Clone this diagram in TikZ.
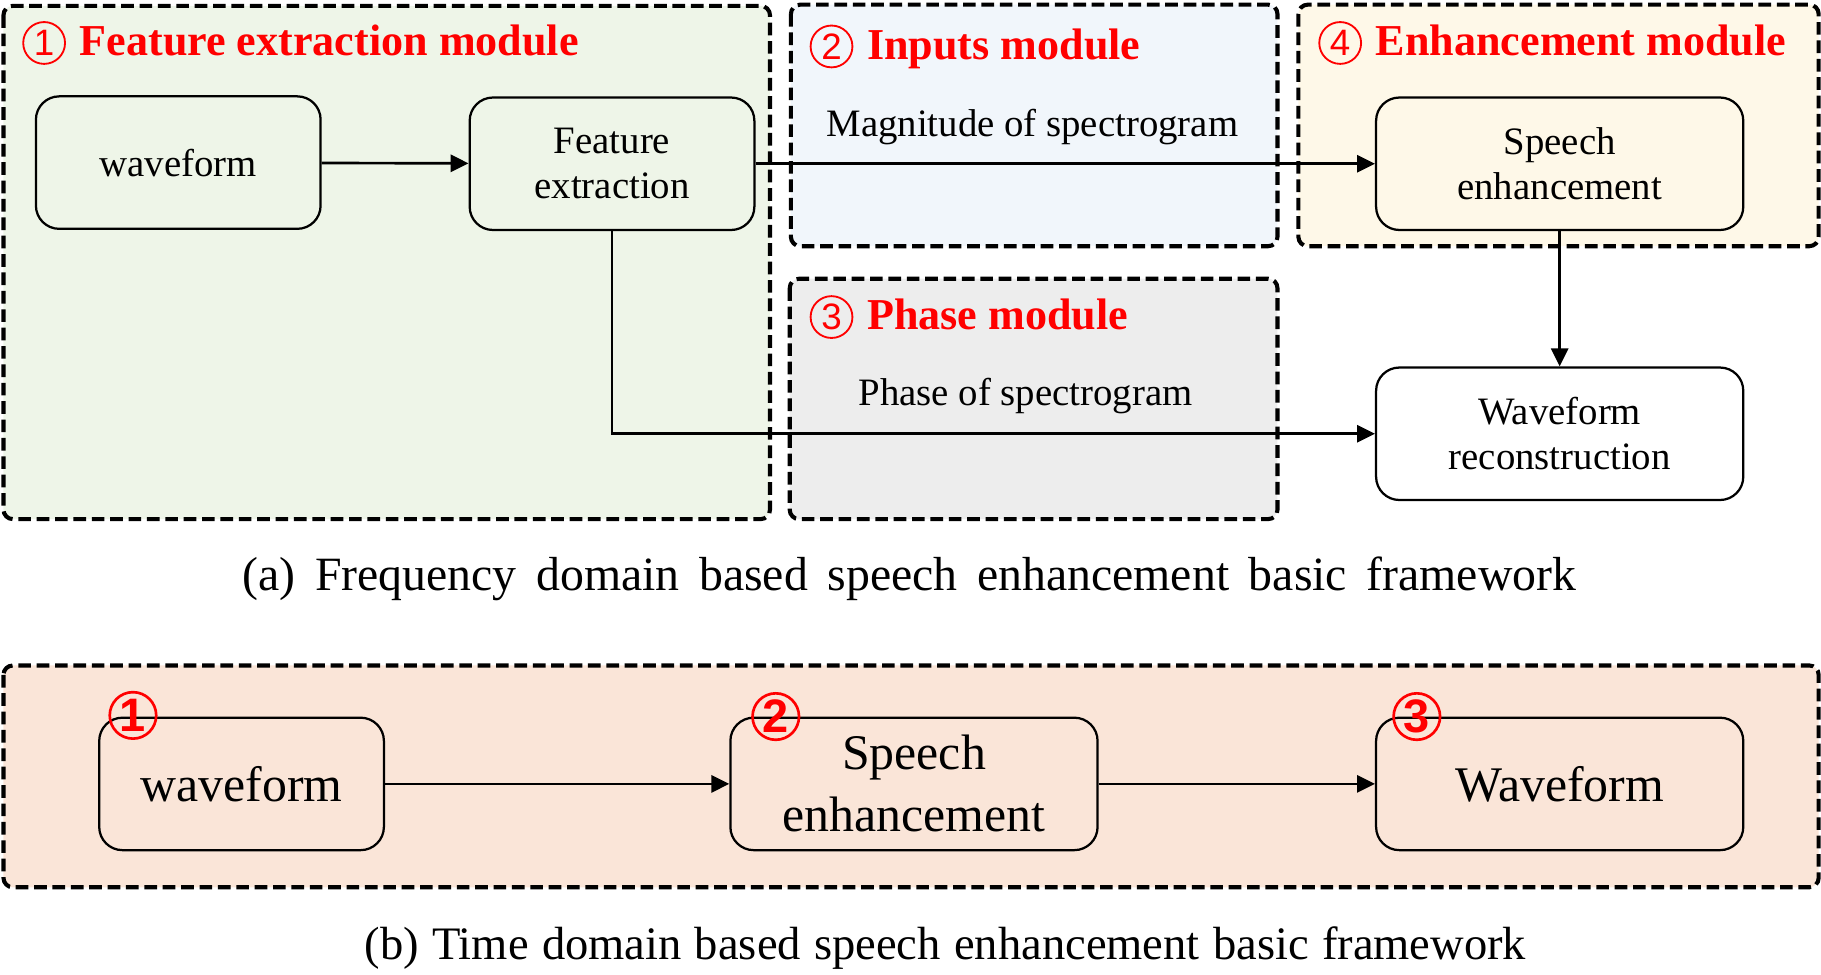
\documentclass[tikz,border=0pt]{standalone}
\usepackage{fontspec}
\setmainfont{Liberation Serif}
\newfontfamily\numfont{Liberation Sans}
\usetikzlibrary{arrows.meta,calc}
\definecolor{modgreen}{HTML}{EEF5E8}
\definecolor{modblue}{HTML}{F1F6FB}
\definecolor{modyellow}{HTML}{FEF8E8}
\definecolor{modgray}{HTML}{EDEDED}
\definecolor{modpeach}{HTML}{FAE5D8}
\definecolor{numred}{rgb}{1.0, 0.0, 0.0}

\tikzset{
	modbox/.style={draw, line width=1pt, dash pattern=on 3.1pt off 1.4pt, rounded corners=2.3pt},
	modtitle/.style={anchor=base west, inner sep=0pt, text=numred, font=\fontsize{10.8}{12}\selectfont\bfseries},
	numbadge/.style={circle, draw=numred, text=numred, line width=0.45pt, inner sep=0pt,
		minimum size=0.36cm, font=\numfont\fontsize{9}{9}\selectfont},
	bignumbadge/.style={numbadge, line width=0.65pt, minimum size=0.40cm, font=\numfont\fontsize{11.5}{11.5}\selectfont\bfseries},
	proc/.style={draw, line width=0.55pt, rounded corners=5.7pt, align=center, inner sep=0pt,
		minimum width=2.45cm, minimum height=1.14cm, font=\fontsize{9.5}{11.1}\selectfont},
	bigproc/.style={proc, font=\fontsize{12.2}{15.2}\selectfont},
	plain/.style={inner sep=0pt, font=\fontsize{9.5}{11.1}\selectfont},
	figcap/.style={inner sep=0pt, font=\fontsize{11.4}{13}\selectfont},
	arr/.style={line width=0.65pt, -{Triangle[length=4.4pt, width=4.2pt]}}
}

\begin{document}
\begin{tikzpicture}[x=0.01cm, y=-0.01cm]
	\useasboundingbox (0,0) rectangle (1568,839);

	\draw[modbox, fill=modgreen] (3,5) rectangle (663,447);
	\draw[modbox, fill=modblue] (681,4) rectangle (1100,212);
	\draw[modbox, fill=modyellow] (1118,4) rectangle (1566,212);
	\draw[modbox, fill=modgray] (680,240) rectangle (1100,447);
	\draw[modbox, fill=modpeach] (3,573) rectangle (1566,764);

	\node[numbadge] (cfeat) at (38,37) {1};
	\node[modtitle] (tfeat) at (68,48) {Feature extraction module};
	\node[numbadge] (cinp) at (716,40) {2};
	\node[modtitle] (tinp) at (746,51) {Inputs module};
	\node[numbadge] (cenh) at (1154,37) {4};
	\node[modtitle] (tenh) at (1184,48) {Enhancement module};
	\node[numbadge] (cpha) at (716,273) {3};
	\node[modtitle] (tpha) at (746,284) {Phase module};

	\node[proc] (wave) at (153.5,140) {waveform};
	\node[proc] (feat) at (527,141) {Feature\\extraction};
	\node[proc, minimum width=3.16cm] (enh) at (1343,141) {Speech\\enhancement};
	\node[proc, minimum width=3.16cm, fill=white] (recon) at (1343,373.5) {Waveform\\reconstruction};
	\node[plain] (mag) at (889,109) {Magnitude of spectrogram};
	\node[plain] (pha) at (883,341) {Phase of spectrogram};

	\draw[arr] (wave) -- (feat);
	\draw[arr] (feat.east) -- (enh.west);
	\draw[arr] (enh) -- (recon);
	\draw[arr] (feat.south) |- (recon.west);

	\node[figcap, font=\fontsize{11.7}{13}\selectfont] (capa) at (783,498) {\spaceskip=4.8pt(a) Frequency domain based speech enhancement basic framework};

	\node[bigproc] (bwave) at (208,675) {waveform};
	\node[bigproc, minimum width=3.16cm] (benh) at (787,675) {Speech\\enhancement};
	\node[bigproc, minimum width=3.16cm] (bout) at (1343,675) {Waveform};
	\node[bignumbadge] (n1) at (114.5,616) {1};
	\node[bignumbadge] (n2) at (668,617) {2};
	\node[bignumbadge] (n3) at (1220,617) {3};

	\draw[arr] (bwave) -- (benh);
	\draw[arr] (benh) -- (bout);

	\node[figcap] (capb) at (814,816) {\spaceskip=3.25pt(b) Time domain based speech enhancement basic framework};
\end{tikzpicture}
\end{document}
